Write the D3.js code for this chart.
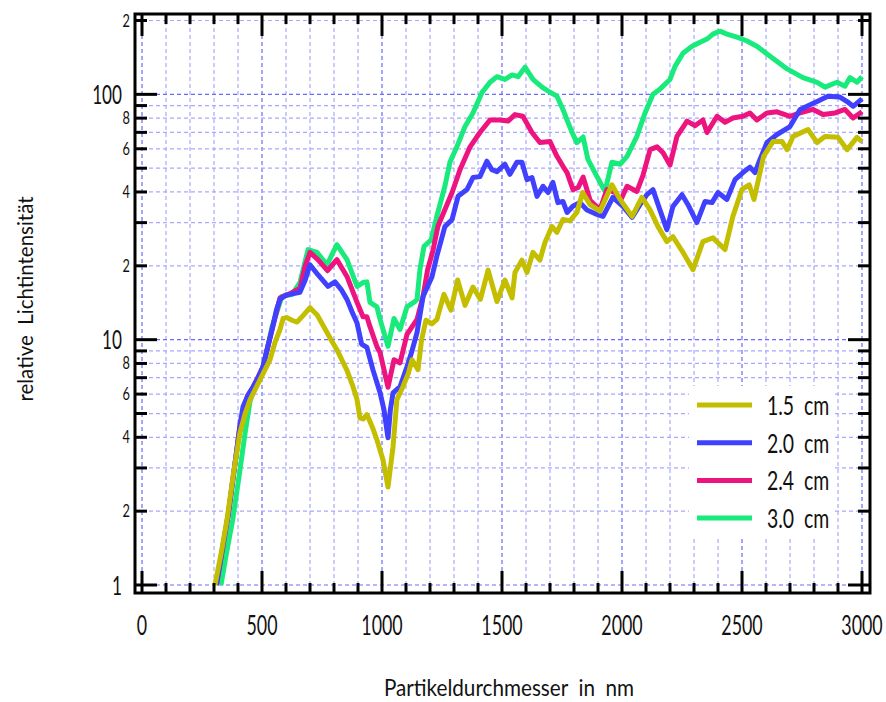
<!DOCTYPE html>
<html><head><meta charset="utf-8">
<script src="https://cdn.jsdelivr.net/npm/d3@7"></script>
<style>
html,body{margin:0;padding:0;background:#fff;}
svg{display:block;}
text{font-family:Lato,"Noto Sans",sans-serif;fill:#111;white-space:pre;}
</style></head>
<body>
<svg id="chart" width="886" height="702"></svg>
<script>
// ---------------- data ----------------
const seriesNames = ["1.5  cm","2.0  cm","2.4  cm","3.0  cm"];
const seriesColors = ["#c4be00","#4040ff","#ee1480","#18ea7c"];

const s15 = [[304,1.0],[330,1.35],[354,1.84],[380,2.8],[408,4.17],[430,5.0],[450,5.69],[492,6.87],[533,8.28],[555,9.8],[575,11.0],[588,12.2],[604,12.3],[625,12.0],[646,11.8],[670,12.5],[700,13.5],[730,12.6],[771,10.7],[790,9.9],[812,9.1],[854,7.5],[880,6.4],[896,5.7],[908,4.8],[921,4.75],[937,4.95],[960,4.4],[979,3.9],[1004,3.24],[1025,2.51],[1046,3.66],[1062,5.69],[1087,6.43],[1110,7.3],[1125,8.28],[1150,7.55],[1165,10.0],[1183,12.0],[1208,11.6],[1229,12.1],[1258,15.3],[1287,13.2],[1315,17.5],[1346,13.8],[1379,16.4],[1410,14.6],[1442,19.2],[1479,14.3],[1512,17.5],[1542,14.8],[1554,18.8],[1583,21.1],[1604,18.8],[1629,22.7],[1658,21.1],[1679,24.9],[1708,28.9],[1729,27.4],[1754,30.9],[1783,30.5],[1812,33.0],[1836,39.8],[1867,35.5],[1908,33.4],[1958,42.8],[1992,37.3],[2042,31.8],[2083,38.0],[2117,33.8],[2150,28.9],[2187,25.1],[2212,26.3],[2254,22.7],[2296,19.3],[2337,25.1],[2379,26.0],[2429,23.3],[2462,31.8],[2500,41.0],[2530,42.8],[2550,37.3],[2575,48.0],[2590,55.9],[2629,64.2],[2667,64.2],[2688,59.5],[2713,67.4],[2775,71.9],[2813,63.6],[2846,67.4],[2900,66.8],[2938,59.5],[2979,66.8],[3000,64.2]];

const s20 = [[310,1.0],[335,1.4],[360,1.95],[385,3.0],[410,4.6],[421,5.33],[440,5.9],[463,6.43],[484,7.0],[504,7.75],[520,9.0],[542,11.0],[560,13.2],[575,14.6],[600,15.2],[617,15.3],[658,15.6],[680,17.5],[700,20.2],[733,18.4],[775,16.5],[804,17.2],[830,16.0],[854,14.6],[875,13.0],[896,11.7],[915,9.6],[937,9.3],[962,7.55],[992,6.07],[1008,5.2],[1025,3.98],[1035,5.2],[1046,6.07],[1075,6.43],[1104,7.75],[1125,9.0],[1146,10.7],[1171,15.0],[1208,18.0],[1229,22.0],[1262,28.9],[1292,30.9],[1317,38.4],[1354,40.9],[1379,45.8],[1408,46.2],[1437,53.4],[1458,49.3],[1479,48.4],[1512,51.9],[1533,47.2],[1562,52.9],[1583,52.9],[1604,44.9],[1625,45.8],[1646,38.4],[1671,42.2],[1692,39.8],[1712,43.8],[1733,36.2],[1754,36.6],[1771,33.0],[1795,35.0],[1825,36.2],[1854,33.8],[1896,32.4],[1921,31.8],[1962,38.0],[2004,34.9],[2042,31.5],[2075,35.5],[2104,39.0],[2129,40.9],[2158,33.8],[2187,28.1],[2212,34.9],[2250,39.0],[2275,35.5],[2312,30.0],[2346,36.6],[2375,36.2],[2400,39.8],[2437,37.3],[2471,44.9],[2504,48.0],[2533,50.5],[2554,48.0],[2575,54.3],[2604,63.6],[2646,68.6],[2700,73.9],[2742,86.8],[2813,93.5],[2858,98.2],[2908,97.5],[2938,93.5],[2963,89.4],[3000,95.9]];

const s24 = [[310,1.0],[335,1.4],[360,1.95],[385,3.0],[410,4.6],[440,5.9],[463,6.4],[504,7.75],[520,9.0],[542,11.0],[575,14.8],[617,15.4],[658,16.2],[680,20.0],[700,22.7],[733,21.2],[773,19.1],[812,21.2],[854,18.1],[896,14.2],[921,12.4],[937,12.4],[950,11.3],[979,9.36],[992,8.86],[1025,6.4],[1050,8.28],[1075,8.04],[1104,10.5],[1146,12.1],[1171,15.0],[1190,19.3],[1212,23.0],[1233,29.0],[1250,31.8],[1292,39.8],[1325,49.3],[1367,61.1],[1408,69.9],[1450,78.6],[1492,78.6],[1525,77.8],[1554,82.7],[1587,81.4],[1625,69.9],[1658,63.6],[1700,64.2],[1729,55.9],[1754,50.9],[1771,48.0],[1796,40.9],[1817,41.7],[1838,46.0],[1867,37.0],[1908,33.8],[1937,40.9],[1971,39.8],[1992,36.6],[2021,42.2],[2062,40.2],[2087,46.6],[2117,59.5],[2146,61.1],[2171,57.8],[2200,51.5],[2229,67.4],[2271,77.8],[2304,74.5],[2337,78.6],[2354,69.9],[2396,81.4],[2429,76.9],[2462,80.1],[2504,81.4],[2533,84.0],[2562,78.6],[2604,84.0],[2646,84.9],[2700,81.4],[2742,84.0],[2796,86.8],[2838,82.7],[2888,84.0],[2929,86.8],[2963,80.1],[3000,84.9]];

const s30 = [[329,1.0],[352,1.35],[378,1.85],[405,2.8],[430,4.2],[450,5.6],[475,6.6],[504,7.75],[520,9.0],[542,11.3],[583,15.0],[625,15.3],[658,17.1],[692,23.3],[729,22.7],[771,20.2],[812,24.4],[854,21.2],[896,16.5],[921,17.1],[937,17.2],[950,14.2],[979,13.6],[992,12.1],[1025,9.4],[1050,12.2],[1075,11.0],[1104,13.6],[1137,14.3],[1146,14.6],[1158,19.3],[1175,24.0],[1205,25.5],[1229,32.0],[1262,42.2],[1283,52.9],[1312,61.1],[1346,74.0],[1379,84.0],[1417,101.9],[1450,112],[1479,118],[1512,115],[1542,120],[1567,118],[1596,129],[1629,115],[1667,107],[1700,102],[1729,98.3],[1754,86.8],[1771,78.6],[1792,70.0],[1812,63.6],[1838,67.0],[1858,54.3],[1896,46.2],[1929,40.2],[1958,52.9],[1992,51.9],[2021,55.9],[2062,67.4],[2096,84.0],[2129,100],[2158,105],[2200,115],[2221,130],[2254,147],[2292,157],[2325,163],[2354,168],[2379,176],[2408,181],[2437,176],[2479,171],[2521,165],[2546,160],[2562,157],[2617,143],[2688,127],[2754,117],[2813,112],[2846,107],[2896,112],[2929,108],[2950,117],[2979,112],[3000,118]];

const seriesData = [s15, s20, s24, s30];

const xMajorTicks = [0,500,1000,1500,2000,2500,3000];
const xMinorTicks = d3.range(0,3001,100);
const yMajorTicks = [1,10,100];
const yMinorTicks = [1,2,3,4,5,6,7,8,9,10,20,30,40,50,60,70,80,90,100,200];
const yLabelTicks = [2,4,6,8,20,40,60,80,200];
const yLabelText = ["2","4","6","8","2","4","6","8","2"];

const xTitle = "Partikeldurchmesser  in  nm";
const yTitle = "relative  Lichtintensität";

// ---------------- chart ----------------
const svg = d3.select("#chart");
const frame = {left:135, right:870, top:14, bottom:593};
const x = d3.scaleLinear().domain([0,3000]).range([142,862]);
const y = d3.scaleLog().domain([1,200]).range([585,20.5]);

// condensed text helper: places text at (px,py) with horizontal squeeze k
function ctext(parent, px, py, str, size, anchor, k, rot){
  const g = parent.append("g").attr("transform",`translate(${px},${py})${rot?" rotate("+rot+")":""} scale(${k},1)`);
  return g.append("text").attr("x",0).attr("y",0).attr("text-anchor",anchor).attr("font-size",size).text(str);
}

// grid
const grid = svg.append("g");
grid.selectAll("line.vx").data(xMinorTicks).join("line")
  .attr("x1",d=>x(d)).attr("x2",d=>x(d)).attr("y1",frame.top).attr("y2",frame.bottom)
  .attr("stroke",d=>d%500===0?"#6a6aff":"#a8a8ff").attr("stroke-width",1.2)
  .attr("stroke-dasharray","4,3");
grid.selectAll("line.hy").data(yMinorTicks).join("line")
  .attr("y1",d=>y(d)).attr("y2",d=>y(d)).attr("x1",frame.left).attr("x2",frame.right)
  .attr("stroke",d=>yMajorTicks.includes(d)?"#6a6aff":"#a8a8ff").attr("stroke-width",1.2)
  .attr("stroke-dasharray","4,3");

// lines (green at bottom, yellow on top)
const line = d3.line().x(d=>x(d[0])).y(d=>y(d[1])).curve(d3.curveLinear);
const order = [3,2,1,0];
svg.append("g").selectAll("path").data(order).join("path")
  .attr("d",i=>line(seriesData[i]))
  .attr("fill","none").attr("stroke",i=>seriesColors[i])
  .attr("stroke-width",5).attr("stroke-linejoin","round").attr("stroke-linecap","butt");

// legend
const lg = svg.append("g");
lg.append("rect").attr("x",689).attr("y",386).attr("width",146).attr("height",150).attr("fill","#fff");
seriesNames.forEach((n,i)=>{
  const yy = 405 + i*37.7;
  lg.append("line").attr("x1",697).attr("x2",752).attr("y1",yy).attr("y2",yy)
    .attr("stroke",seriesColors[i]).attr("stroke-width",5);
  ctext(lg, 767, yy+10, n, 27, "start", 0.72);
});

// axes ticks
const ax = svg.append("g").attr("stroke","#000").attr("stroke-width",3);
xMinorTicks.forEach(d=>{
  const L = xMajorTicks.includes(d)?22:10;
  ax.append("line").attr("x1",x(d)).attr("x2",x(d)).attr("y1",frame.bottom).attr("y2",frame.bottom-L);
  ax.append("line").attr("x1",x(d)).attr("x2",x(d)).attr("y1",frame.top).attr("y2",frame.top+L);
});
yMinorTicks.forEach(d=>{
  const L = yMajorTicks.includes(d)?22:12;
  ax.append("line").attr("y1",y(d)).attr("y2",y(d)).attr("x1",frame.left).attr("x2",frame.left+L);
  ax.append("line").attr("y1",y(d)).attr("y2",y(d)).attr("x1",frame.right).attr("x2",frame.right-L);
});
svg.append("rect").attr("x",frame.left).attr("y",frame.top)
  .attr("width",frame.right-frame.left).attr("height",frame.bottom-frame.top)
  .attr("fill","none").attr("stroke","#000").attr("stroke-width",3);

// tick labels
const tl = svg.append("g");
xMajorTicks.forEach(d=>ctext(tl, x(d), 635, String(d), 27, "middle", 0.66));
yMajorTicks.forEach(d=>ctext(tl, 122, y(d)+9.5, String(d), 26, "end", 0.66));
yLabelTicks.forEach((d,i)=>ctext(tl, 130, y(d)+6, yLabelText[i], 17, "end", 0.75));

// titles
ctext(svg, 509, 696, xTitle, 23, "middle", 0.9);
ctext(svg, 33, 299, yTitle, 22, "middle", 0.93, -90);
</script>
</body></html>
